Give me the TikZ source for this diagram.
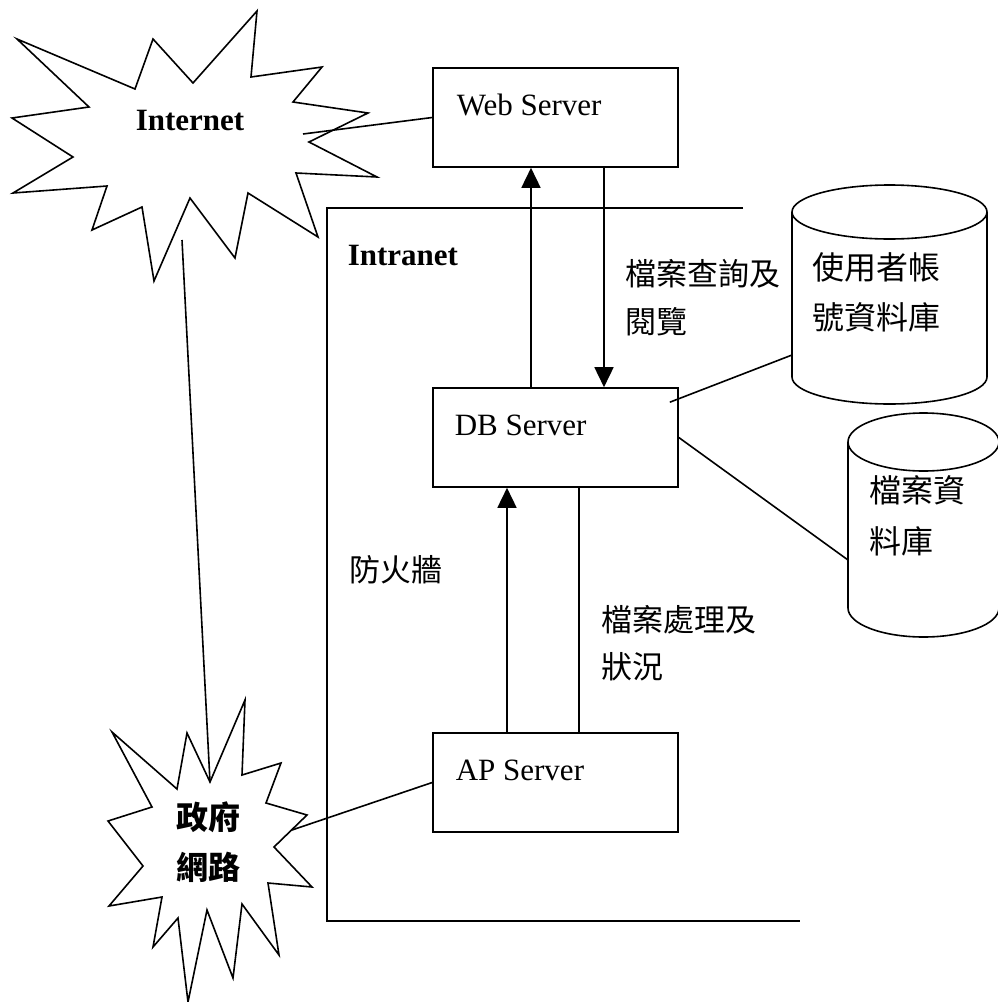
\documentclass[tikz,border=0pt]{standalone}
\usepackage{fontspec}
\setmainfont{Liberation Serif}
\newfontfamily\cjkfont{Noto Sans CJK TC}
\usetikzlibrary{arrows.meta,calc}

\begin{document}
\begin{tikzpicture}[x=1pt,y=-1pt,line width=1.6pt,line join=miter,
  box/.style={draw,rectangle,inner sep=0pt,minimum width=245pt,minimum height=99pt},
  srvlabel/.style={anchor=base west,inner sep=0pt,font=\fontsize{31}{31}\selectfont},
  boldlabel/.style={anchor=base west,inner sep=0pt,font=\fontsize{31}{31}\selectfont\bfseries},
  cjklabel/.style={anchor=west,inner sep=0pt,font=\cjkfont\fontsize{31}{31}\selectfont},
  dblabel/.style={anchor=west,inner sep=0pt,font=\cjkfont\fontsize{32}{32}\selectfont},
  govlabel/.style={anchor=center,inner sep=0pt,font=\cjkfont\bfseries\fontsize{32}{32}\selectfont},
  flow/.style={-{Triangle[length=20pt,width=19pt]}},
]
\useasboundingbox (0,0) rectangle (997,1002);

% servers
\node[box] (web) at (555.5,117.5) {};
\node[box] (db)  at (555.5,437.5) {};
\node[box] (ap)  at (555.5,782.5) {};
\node[srvlabel] (webtxt) at (456,115) {Web Server};
\node[srvlabel] (dbtxt)  at (454,435) {DB Server};
\node[srvlabel] (aptxt)  at (455,780) {AP Server};

% Internet cloud
\draw (17,39) -- (135,89) -- (153,39) -- (193,83) -- (257,11) -- (251,77)
  -- (322,67) -- (293,102) -- (368,113) -- (309,142) -- (377,177) -- (296,173)
  -- (318,237) -- (248,193) -- (235,258) -- (190,198) -- (154,281) -- (142,207)
  -- (92,230) -- (107,186) -- (13,193) -- (73,157) -- (12,118) -- (89,107) -- cycle;
\node[boldlabel] (inet) at (135,130) {Internet};

% government network cloud
\draw (112,732) -- (177,789) -- (187,733) -- (210,782) -- (245,700) -- (242,775)
  -- (281,763) -- (266,803) -- (307,815) -- (274,847) -- (312,887) -- (268,883)
  -- (279,955) -- (242,904) -- (233,978) -- (207,910) -- (188,1002) -- (178,918)
  -- (153,947) -- (162,897) -- (109,906) -- (143,866) -- (108,821) -- (152,807) -- cycle;
\node[govlabel] (gov1) at (208,817) {政府};
\node[govlabel] (gov2) at (208,867) {網路};

% intranet / firewall boundary
\coordinate (fwA) at (743,208);
\coordinate (fwB) at (327,208);
\coordinate (fwC) at (327,921);
\coordinate (fwD) at (800,921);
\draw (fwA) -- (fwB) -- (fwC) -- (fwD);
\node[boldlabel] (intra) at (347,265) {Intranet};
\node[cjklabel] (fw) at (349,570) {防火牆};

% user account database
\draw (889.5,212) ellipse [x radius=97.5, y radius=27];
\draw (792,212) -- (792,377) .. controls (792,391.9) and (835.6,404) .. (889.5,404)
  .. controls (943.4,404) and (987,391.9) .. (987,377) -- (987,212);
\node[dblabel] (u1) at (812,267) {使用者帳};
\node[dblabel] (u2) at (812,317) {號資料庫};

% file database
\draw (923.5,442) ellipse [x radius=75.5, y radius=29];
\draw (848,442) -- (848,608) .. controls (848,624) and (881.8,637) .. (923.5,637)
  .. controls (965.2,637) and (999,624) .. (999,608) -- (999,442);
\node[dblabel] (f1) at (869,490) {檔案資};
\node[dblabel] (f2) at (869,541) {料庫};

% connection points
\coordinate (inetout) at (303,134);
\coordinate (inetdown) at (182,240);
\coordinate (govtop) at (210,782);
\coordinate (govright) at (292,830);
\coordinate (udbin) at (792,355);
\coordinate (fdbin) at (848,560);

% connectors
\draw (inetout) -- (web.west);
\draw (inetdown) -- (govtop);
\draw (govright) -- (ap.west);
\draw ([shift={(-9,15)}]db.north east) -- (udbin);
\draw (db.east) -- (fdbin);

\draw[flow] ([xshift=-24.5pt]db.north) -- ([xshift=-24.5pt]web.south);
\draw[flow] ([xshift=48.5pt]web.south) -- ([xshift=48.5pt]db.north);
\draw[flow] ([xshift=-48.5pt]ap.north) -- ([xshift=-48.5pt]db.south);
\draw ([xshift=23.5pt]db.south) -- ([xshift=23.5pt]ap.north);

% flow labels
\node[cjklabel] (q1) at (625,274) {檔案查詢及};
\node[cjklabel] (q2) at (625,322) {閱覽};
\node[cjklabel] (p1) at (601,620) {檔案處理及};
\node[cjklabel] (p2) at (601,667) {狀況};
\end{tikzpicture}
\end{document}
